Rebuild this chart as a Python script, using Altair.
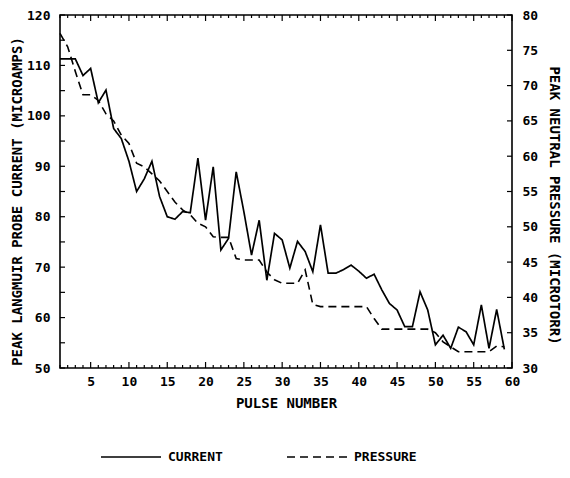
import altair as alt
import pandas as pd

# ---- data ----
pulse = list(range(1, 60))
current = [111.3, 111.3, 111.3, 108.0, 109.4, 102.6, 105.1, 97.5, 95.5, 91.0,
           85.0, 87.5, 91.0, 84.0, 80.0, 79.5, 81.0, 80.8, 91.6, 79.3,
           89.9, 73.4, 75.7, 88.9, 81.0, 72.4, 79.3, 67.4, 76.7, 75.4,
           69.8, 75.1, 73.1, 69.1, 78.4, 68.8, 68.8, 69.5, 70.4, 69.2,
           67.8, 68.6, 65.5, 62.8, 61.5, 58.2, 58.2, 65.1, 61.5, 54.6,
           56.5, 53.9, 58.1, 57.2, 54.6, 62.5, 53.9, 61.6, 53.7]
pressure = [77.4, 75.5, 72.0, 68.7, 68.7, 67.9, 66.0, 65.0, 63.0, 61.8,
            59.0, 58.5, 57.5, 56.5, 55.0, 53.5, 52.4, 51.7, 50.5, 50.0,
            48.6, 48.5, 48.5, 45.5, 45.3, 45.3, 45.3, 43.6, 42.5, 42.0,
            42.0, 42.0, 43.9, 39.0, 38.7, 38.7, 38.7, 38.7, 38.7, 38.7,
            38.7, 37.0, 35.5, 35.5, 35.5, 35.5, 35.5, 35.5, 35.5, 35.0,
            33.7, 33.0, 32.3, 32.3, 32.3, 32.3, 32.3, 33.1, 33.0]
series_names = ["CURRENT", "PRESSURE"]

x_labels = [5, 10, 15, 20, 25, 30, 35, 40, 45, 50, 55, 60]
x_minor = [p for p in range(1, 61) if p % 5 != 0]
left_labels = [50, 60, 70, 80, 90, 100, 110, 120]
left_ticks = [50, 55, 60, 65, 70, 75, 80, 85, 90, 95, 100, 105, 110, 115, 120]
right_ticks = [30, 35, 40, 45, 50, 55, 60, 65, 70, 75, 80]

W, H = 452, 353
FONT = "DejaVu Sans Mono"

cur_df = pd.DataFrame({"pulse": pulse, "value": current, "series": series_names[0]})
pre_df = pd.DataFrame({"pulse": pulse, "value": pressure, "series": series_names[1]})

xscale = alt.Scale(domain=[1, 60], nice=False, zero=False)
yl_scale = alt.Scale(domain=[50, 120], nice=False, zero=False)
yr_scale = alt.Scale(domain=[30, 80], nice=False, zero=False)

xaxis = alt.Axis(values=x_labels, ticks=False, domain=False, grid=False,
                 labelPadding=7, labelFontSize=13, labelFlush=False,
                 title="PULSE NUMBER", titleY=35, titleBaseline="middle")

dash = alt.StrokeDash(
    "series:N",
    scale=alt.Scale(domain=series_names, range=[[1, 0], [8, 5]]),
    legend=alt.Legend(
        title=None, orient="none", direction="horizontal",
        legendX=40, legendY=411, padding=0,
        symbolType="stroke", symbolSize=3600, symbolStrokeWidth=1.6,
        symbolStrokeColor="black", columnPadding=60, labelOffset=6,
        labelFont=FONT, labelFontSize=13, labelFontWeight="bold",
        labelColor="black",
    ),
)

cur_line = alt.Chart(cur_df).mark_line(color="black", strokeWidth=1.7).encode(
    x=alt.X("pulse:Q", scale=xscale, axis=xaxis),
    y=alt.Y("value:Q", scale=yl_scale,
            axis=alt.Axis(values=left_labels, ticks=False, domain=False,
                          grid=False, labelPadding=10, labelFontSize=13,
                          title="PEAK LANGMUIR PROBE CURRENT (MICROAMPS)",
                          titleX=-43, titleY=186, titleBaseline="middle")),
    strokeDash=dash,
)

pre_line = alt.Chart(pre_df).mark_line(color="black", strokeWidth=1.6).encode(
    x=alt.X("pulse:Q", scale=xscale, axis=xaxis),
    y=alt.Y("value:Q", scale=yr_scale,
            axis=alt.Axis(orient="right", values=right_ticks, ticks=False, domain=False,
                          grid=False, labelPadding=10, labelFontSize=13,
                          title="PEAK NEUTRAL PRESSURE (MICROTORR)",
                          titleX=41, titleY=190, titleAngle=90, titleBaseline="middle")),
    strokeDash=dash,
)

minor_df = pd.DataFrame({"p": x_minor})
major_df = pd.DataFrame({"p": x_labels})
lt_df = pd.DataFrame({"v": left_ticks})
rt_df = pd.DataFrame({"v": right_ticks})

def xtick(df, y0, y1):
    return alt.Chart(df).mark_rule(color="black", strokeWidth=1.2).encode(
        x=alt.X("p:Q", scale=xscale, axis=xaxis),
        y=alt.value(y0), y2=alt.value(y1))

ticks = [
    xtick(minor_df, H, H - 3), xtick(major_df, H, H - 6),
    xtick(minor_df, 0, 3), xtick(major_df, 0, 6),
]
lt = alt.Chart(lt_df).mark_rule(color="black", strokeWidth=1.2).encode(
    x=alt.value(0), x2=alt.value(5),
    y=alt.Y("v:Q", scale=yl_scale, axis=None))
rt = alt.Chart(rt_df).mark_rule(color="black", strokeWidth=1.2).encode(
    x=alt.value(W), x2=alt.value(W - 5),
    y=alt.Y("v:Q", scale=yr_scale, axis=None))

chart = alt.layer(cur_line, pre_line, lt, rt, *ticks).resolve_scale(
    y="independent"
).properties(
    width=W, height=H,
    autosize=alt.AutoSizeParams(type="none"),
    padding={"left": 52, "top": 7, "right": 50, "bottom": 100},
    background="white",
).configure_view(
    stroke="black", strokeWidth=1.6
).configure_axis(
    labelFont=FONT, labelFontWeight="bold", labelColor="black",
    titleFont=FONT, titleFontWeight="bold", titleColor="black", titleFontSize=14,
)

chart.save("out.html", embed_options={"renderer": "svg", "actions": False})
